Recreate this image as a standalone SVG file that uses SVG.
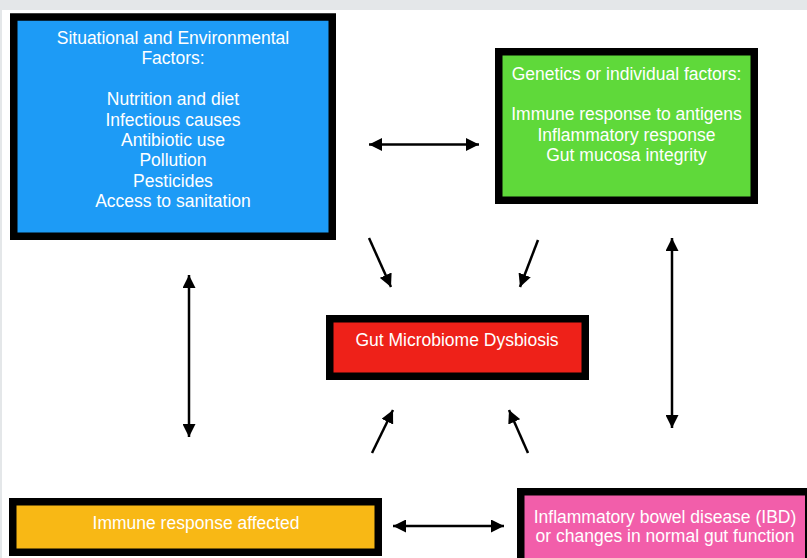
<svg xmlns="http://www.w3.org/2000/svg" width="807" height="558" viewBox="0 0 807 558">
<defs>
<marker id="ah" markerUnits="userSpaceOnUse" markerWidth="13" markerHeight="13" refX="13" refY="6.5" orient="auto-start-reverse" viewBox="0 0 13 13">
<path d="M0,0 L13,6.5 L0,13 z" fill="#000"/>
</marker>
</defs>
<style>
.box{stroke:#000;stroke-width:7.5}
.t{font-family:"Liberation Sans",Arial,sans-serif;font-size:17.5px;fill:#fff;text-anchor:middle}
.c{fill:none;stroke:#000;stroke-width:2.5}
</style>
<rect x="0" y="0" width="807" height="558" fill="#fff"/>
<rect x="0" y="0" width="807" height="10" fill="#e4e7e9"/>
<rect x="0" y="10" width="2" height="548" fill="#e4e7e9"/>
<g id="env">
<rect class="box" x="13.75" y="17" width="318.5" height="219.25" fill="#1d9bf6"/>
<text class="t" x="173" y="44">Situational and Environmental</text>
<text class="t" x="173" y="64.4">Factors:</text>
<text class="t" x="173" y="105.2">Nutrition and diet</text>
<text class="t" x="173" y="125.6">Infectious causes</text>
<text class="t" x="173" y="146">Antibiotic use</text>
<text class="t" x="173" y="166.4">Pollution</text>
<text class="t" x="173" y="186.8">Pesticides</text>
<text class="t" x="173" y="207.2">Access to sanitation</text>
</g>
<g id="genetics">
<rect class="box" x="498.75" y="51.75" width="255.5" height="148.5" fill="#5fd93a"/>
<text class="t" x="626.5" y="79.5">Genetics or individual factors:</text>
<text class="t" x="626.5" y="120.3">Immune response to antigens</text>
<text class="t" x="626.5" y="140.7">Inflammatory response</text>
<text class="t" x="626.5" y="161.1">Gut mucosa integrity</text>
</g>
<g id="dysbiosis">
<rect class="box" x="329.75" y="318.75" width="255.5" height="57.5" fill="#ee2119"/>
<text class="t" x="457" y="346">Gut Microbiome Dysbiosis</text>
</g>
<g id="immune">
<rect class="box" x="12.75" y="501.75" width="365.5" height="50.5" fill="#f8b815"/>
<text class="t" x="196" y="528.5">Immune response affected</text>
</g>
<g id="ibd">
<rect class="box" x="520.75" y="491.75" width="288" height="80" fill="#f25eaa"/>
<text class="t" x="665" y="522.5">Inflammatory bowel disease (IBD)</text>
<text class="t" x="665" y="542">or changes in normal gut function</text>
</g>
<g id="connectors">
<path class="c" d="M369,144.5 L479,144.5" marker-start="url(#ah)" marker-end="url(#ah)"/>
<path class="c" d="M369,238 L391,287" marker-end="url(#ah)"/>
<path class="c" d="M538,240 L520,287" marker-end="url(#ah)"/>
<path class="c" d="M372,453 L393,410" marker-end="url(#ah)"/>
<path class="c" d="M528,453 L509,410" marker-end="url(#ah)"/>
<path class="c" d="M189,275 L189,437" marker-start="url(#ah)" marker-end="url(#ah)"/>
<path class="c" d="M672,238 L672,428" marker-start="url(#ah)" marker-end="url(#ah)"/>
<path class="c" d="M393,526 L504,526" marker-start="url(#ah)" marker-end="url(#ah)"/>
</g>
</svg>
